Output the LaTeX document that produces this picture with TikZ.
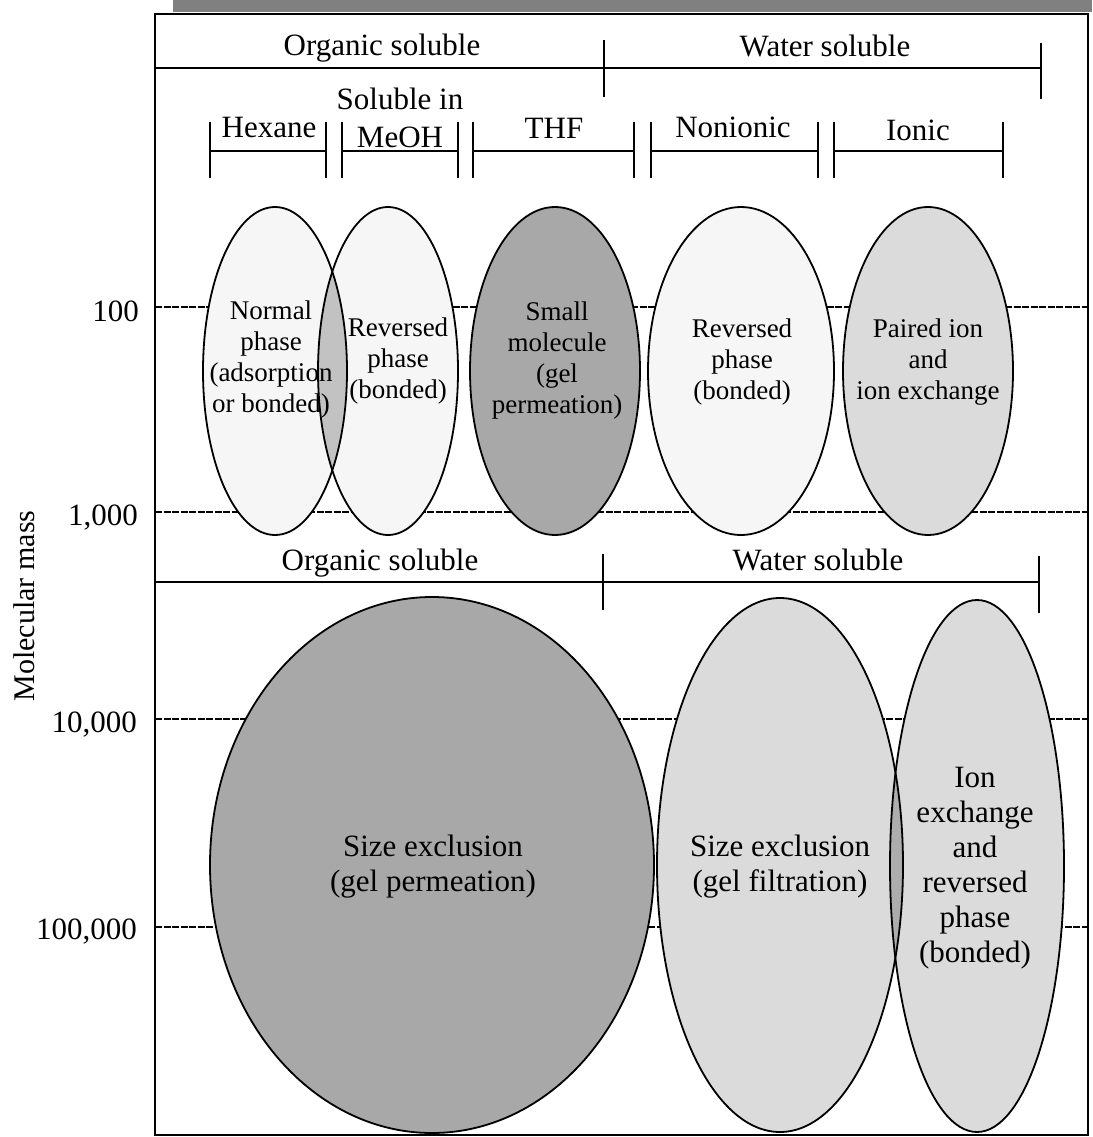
\documentclass[tikz,border=0pt]{standalone}
\usepackage{fontspec}
\setmainfont{Liberation Serif}
\definecolor{vlight}{gray}{0.965}
\definecolor{lightfill}{gray}{0.86}
\definecolor{darkfill}{gray}{0.66}
\definecolor{lensfill}{gray}{0.76}
\definecolor{lenstwo}{gray}{0.68}
\definecolor{scanband}{gray}{0.5}
\begin{document}
\begin{tikzpicture}[x=1pt,y=-1pt,
  frame/.style={line width=1.8pt},
  bracket/.style={line width=1.8pt},
  gridline/.style={line width=1.1pt, dash pattern=on 7pt off 1.5pt},
  ell/.style={line width=1.8pt},
  lab/.style={font=\fontsize{31}{35}\selectfont, inner sep=0pt},
  etxt/.style={font=\fontsize{27}{31}\selectfont, align=center, inner sep=0pt},
  btxt/.style={font=\fontsize{31}{35}\selectfont, align=center, inner sep=0pt},
]
\useasboundingbox (0,0) rectangle (1092,1137);
% scan band on top
\fill[scanband] (173,0) rectangle (1092,12);
% grid lines
\foreach \yy in {307,512,719,927} \draw[gridline] (155,\yy) -- (1088,\yy);
% frame
\draw[frame] (155,14) rectangle (1088,1135);
% top brackets
\draw[bracket] (155,68) -- (1041,68);
\draw[bracket] (604,40) -- (604,97);
\draw[bracket] (1041,43) -- (1041,99);
% lower brackets
\draw[bracket] (155,582) -- (1039,582);
\draw[bracket] (603,554) -- (603,610);
\draw[bracket] (1039,556) -- (1039,613);
% solvent brackets
\foreach \a/\b in {210/326,342/458,473/634,651/818,834/1003}{
  \draw[bracket] (\a,151) -- (\b,151);
  \draw[bracket] (\a,122) -- (\a,178);
  \draw[bracket] (\b,122) -- (\b,178);
}
% ellipse fills
\fill[vlight] (275,371) ellipse [x radius=72pt, y radius=164pt];
\fill[vlight] (388,371) ellipse [x radius=70pt, y radius=164pt];
\fill[darkfill] (555,371) ellipse [x radius=85pt, y radius=164pt];
\fill[vlight] (741,371) ellipse [x radius=93pt, y radius=164pt];
\fill[lightfill] (928,371) ellipse [x radius=85pt, y radius=164pt];
\fill[darkfill] (432,865) ellipse [x radius=222pt, y radius=268pt];
\fill[lightfill] (780,865) ellipse [x radius=123pt, y radius=267pt];
\fill[lightfill] (977,866) ellipse [x radius=87pt, y radius=266pt];
% lenses
\begin{scope}
  \clip (275,371) ellipse [x radius=72pt, y radius=164pt];
  \fill[lensfill] (388,371) ellipse [x radius=70pt, y radius=164pt];
\end{scope}
\begin{scope}
  \clip (780,865) ellipse [x radius=123pt, y radius=267pt];
  \fill[lenstwo] (977,866) ellipse [x radius=87pt, y radius=266pt];
\end{scope}
% ellipse outlines
\draw[ell] (275,371) ellipse [x radius=72pt, y radius=164pt];
\draw[ell] (388,371) ellipse [x radius=70pt, y radius=164pt];
\draw[ell] (555,371) ellipse [x radius=85pt, y radius=164pt];
\draw[ell] (741,371) ellipse [x radius=93pt, y radius=164pt];
\draw[ell] (928,371) ellipse [x radius=85pt, y radius=164pt];
\draw[ell] (432,865) ellipse [x radius=222pt, y radius=268pt];
\draw[ell] (780,865) ellipse [x radius=123pt, y radius=267pt];
\draw[ell] (977,866) ellipse [x radius=87pt, y radius=266pt];
% ellipse texts
\node[etxt] (np) at (271,360) {Normal\\phase\\(adsorption\\or bonded)};
\node[etxt] (rpa) at (398,361) {Reversed\\phase\\(bonded)};
\node[etxt] (sm) at (557,361) {Small\\molecule\\(gel\\permeation)};
\node[etxt] (rpb) at (742,362) {Reversed\\phase\\(bonded)};
\node[etxt] (pi) at (928,362) {Paired ion\\and\\ion exchange};
\node[btxt] (sea) at (433,867) {Size exclusion\\(gel permeation)};
\node[btxt] (seb) at (780,867) {Size exclusion\\(gel filtration)};
\node[btxt] (ie) at (975,868) {Ion\\exchange\\and\\reversed\\phase\\(bonded)};
% header labels
\node[lab,anchor=base] (osa) at (382,56) {Organic soluble};
\node[lab,anchor=base] (wsa) at (825,57) {Water soluble};
\node[lab,anchor=base] (sol) at (400,110) {Soluble in};
\node[lab,anchor=base] (meoh) at (400,147) {MeOH};
\node[lab,anchor=base] (hex) at (269,138) {Hexane};
\node[lab,anchor=base] (thf) at (554,139) {THF};
\node[lab,anchor=base] (non) at (733,138) {Nonionic};
\node[lab,anchor=base] (ionic) at (918,140) {Ionic};
\node[lab,anchor=base] (osb) at (380,570) {Organic soluble};
\node[lab,anchor=base] (wsb) at (818,570) {Water soluble};
% axis
\node[lab,anchor=base east] (ta) at (139,321) {100};
\node[lab,anchor=base east] (tb) at (138,525) {1,000};
\node[lab,anchor=base east] (tc) at (137,732) {10,000};
\node[lab,anchor=base east] (td) at (137,939) {100,000};
\node[lab,rotate=90,font=\fontsize{30}{34}\selectfont] (ym) at (24,606) {Molecular mass};
\end{tikzpicture}
\end{document}
